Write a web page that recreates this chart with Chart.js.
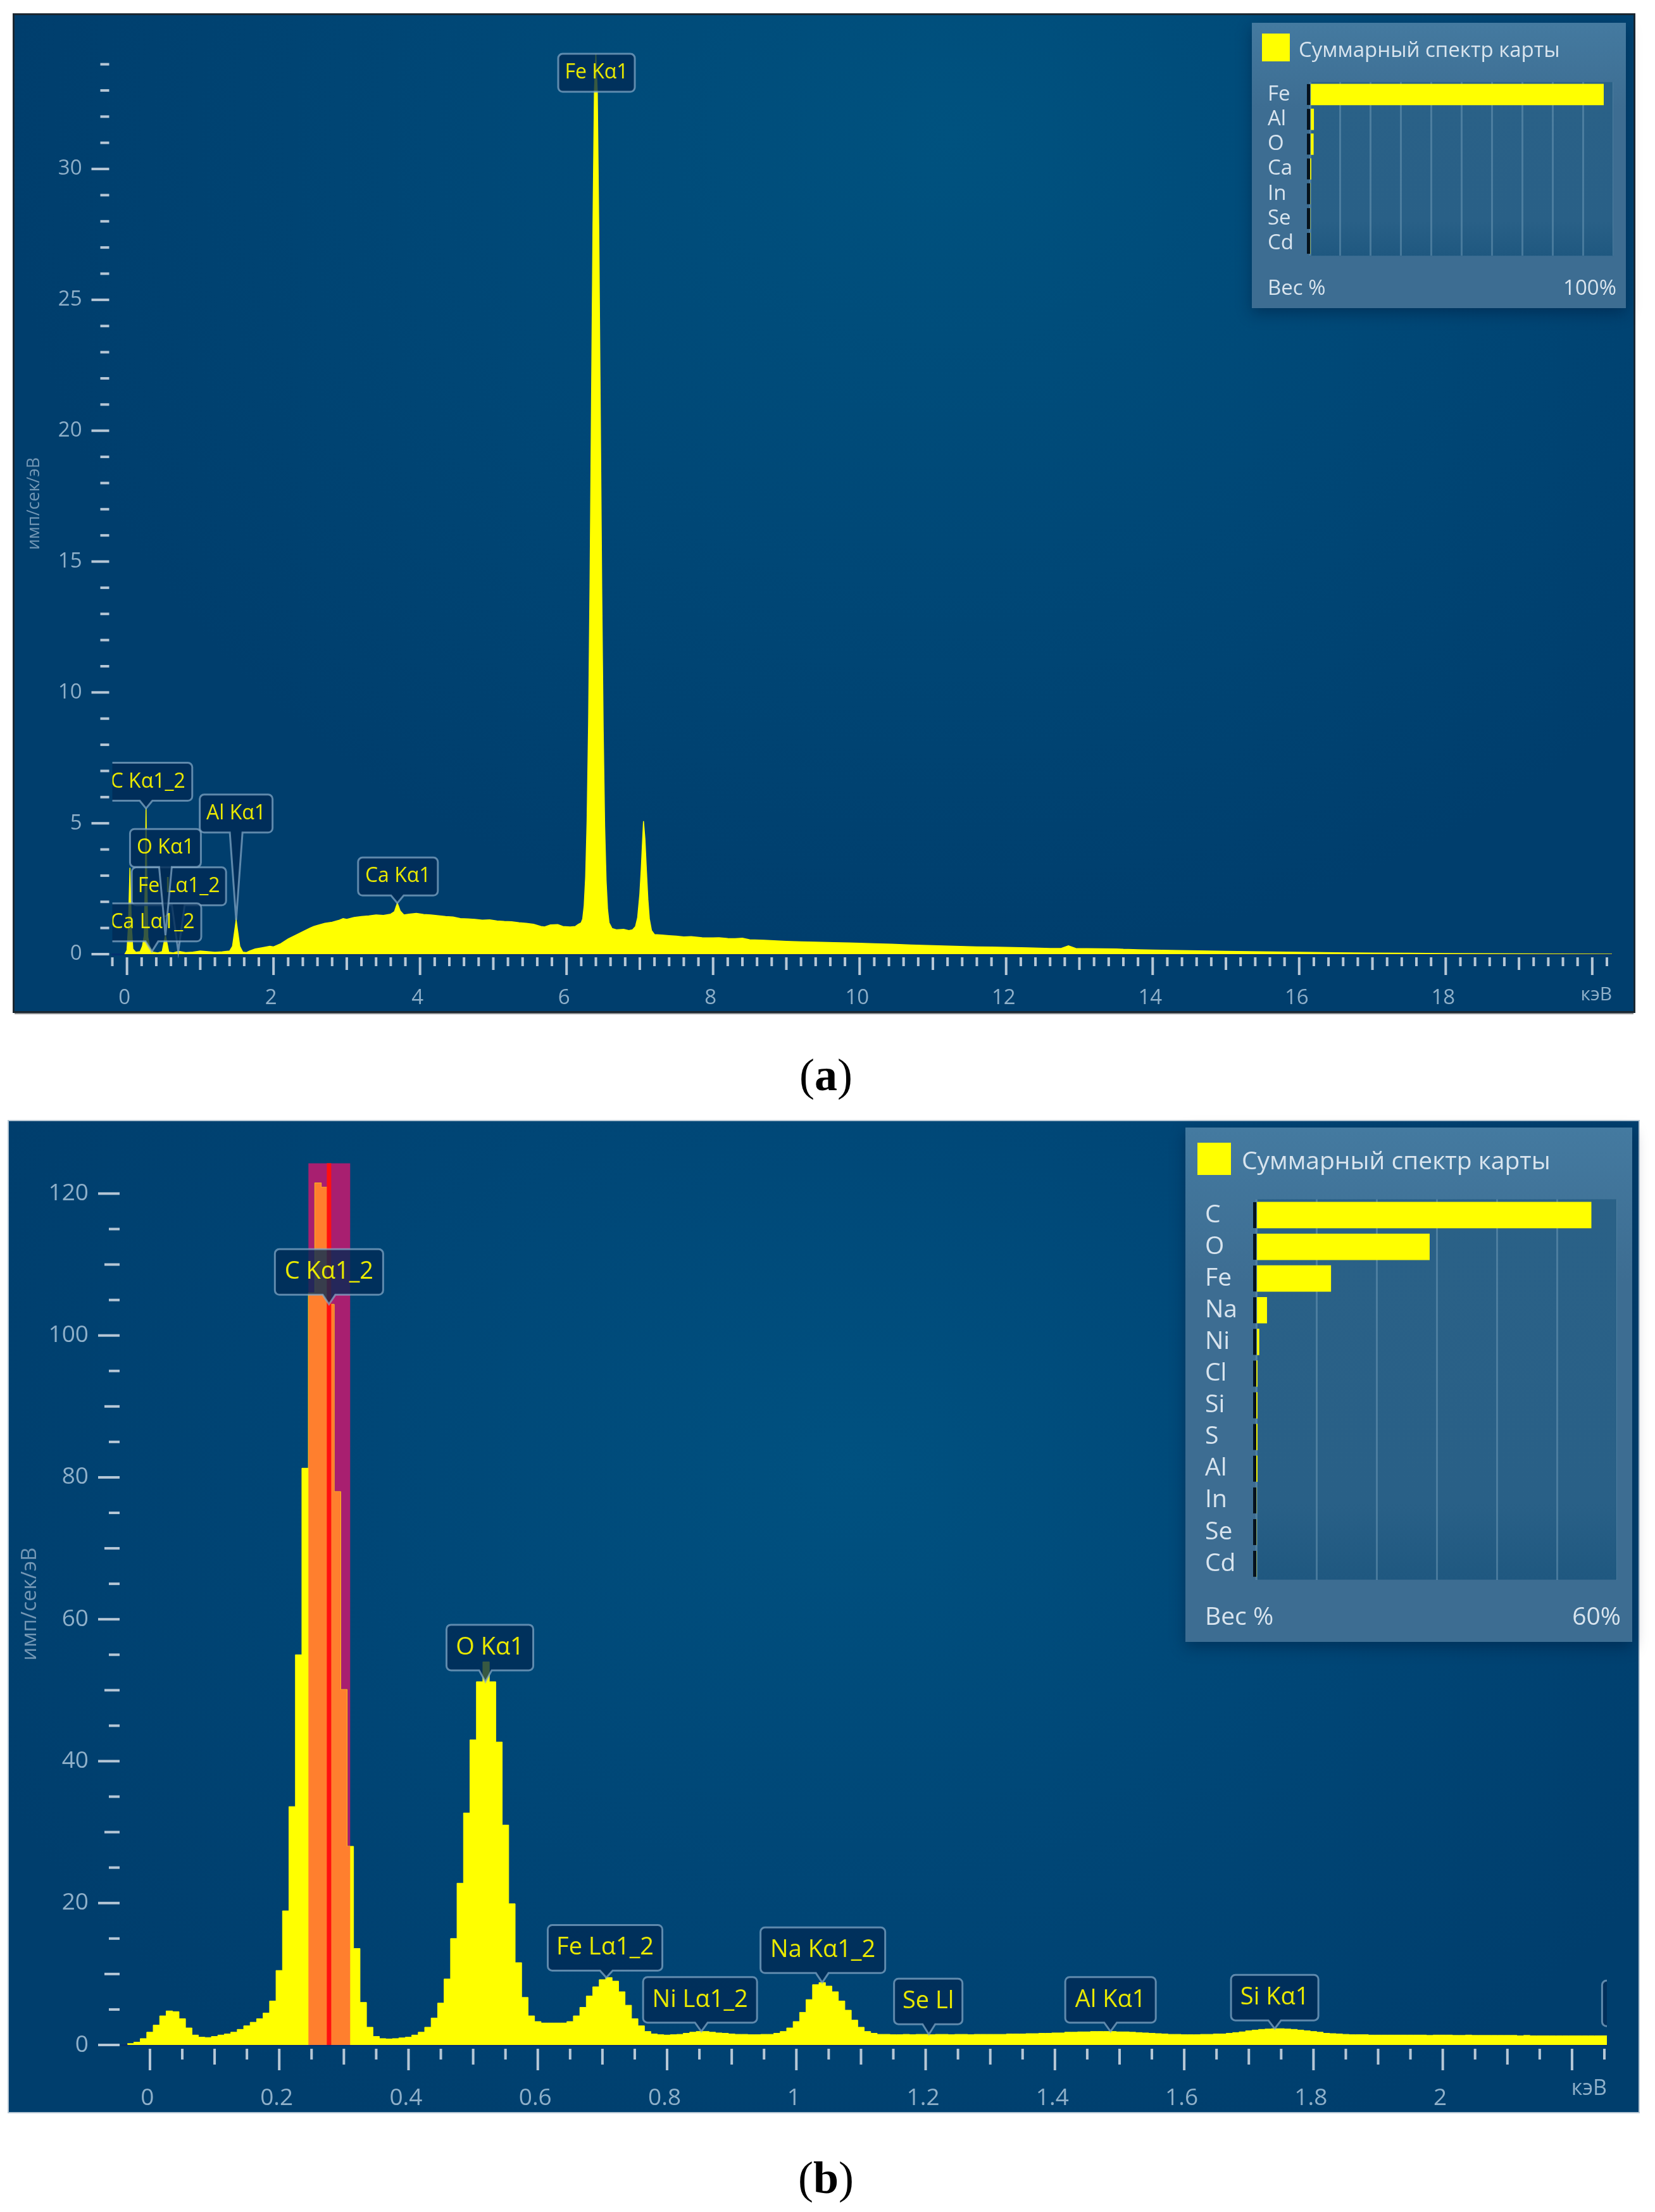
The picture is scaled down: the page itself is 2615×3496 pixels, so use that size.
<!DOCTYPE html>
<html>
<head>
<meta charset="utf-8">
<title>EDS spectra</title>
<script src="https://cdn.jsdelivr.net/npm/chart.js@4"></script>
<style>
html, body { margin: 0; padding: 0; background: #fff; }
body { position: relative; width: 2615px; height: 3496px; overflow: hidden; font-family: "Open Sans", sans-serif; }
.panel { position: absolute; }
.panel canvas { position: absolute; left: 0; top: 0; }
#panelA { left: 23px; top: 24px; width: 2558px; height: 1574px; outline: 3px solid #1b2731; box-shadow: 0 5px 0 #8f9294;
    background: radial-gradient(ellipse 1500px 1300px at 58% 12%, #00527f 0%, #004776 55%, #003e6d 100%); }
#panelB { left: 14px; top: 1772px; width: 2575px; height: 1566px; outline: 2px solid #b7c7d4;
    background: radial-gradient(ellipse 1500px 1200px at 52% 35%, #005180 0%, #004676 55%, #003e6d 100%); }
.inset { position: absolute; background: linear-gradient(#447aa0, #3d6d92 30%, #3d6d92); box-shadow: 0 8px 22px rgba(0,20,50,.4); color: #d8e4ee; }
.inset canvas { position: absolute; }
.swatch { position: absolute; background: #ffff00; }
.inset div { position: absolute; white-space: nowrap; line-height: 1; }
.cap { position: absolute; left: 1105px; width: 400px; text-align: center; font: 72px "Liberation Serif", serif; color: #000; line-height: 1; }
</style>
</head>
<body>
<div class="panel" id="panelA"><canvas id="spectrumA" width="2558" height="1574"></canvas></div>
<div class="inset" style="left:1978px;top:36px;width:591px;height:451px">
    <div class="swatch" style="left:16px;top:17px;width:44px;height:44px"></div>
    <div style="left:74px;top:25px;font-size:33px">Суммарный спектр карты</div>
    <canvas id="weightsA" width="546" height="320" style="left:25px;top:71px"></canvas>
    <div style="left:25px;top:401px;font-size:33px">Вес %</div>
    <div style="right:15px;top:401px;font-size:33px">100%</div>
</div>
<div class="cap" style="top:1663px">(<b>a</b>)</div>

<div class="panel" id="panelB"><canvas id="spectrumB" width="2575" height="1566"></canvas></div>
<div class="inset" style="left:1873px;top:1782px;width:706px;height:813px">
    <div class="swatch" style="left:19px;top:24px;width:53px;height:51px"></div>
    <div style="left:89px;top:31px;font-size:39px">Суммарный спектр карты</div>
    <canvas id="weightsB" width="651" height="654" style="left:31px;top:87px"></canvas>
    <div style="left:31px;top:751px;font-size:39px">Вес %</div>
    <div style="right:18px;top:751px;font-size:39px">60%</div>
</div>
<div class="cap" style="top:3406px">(<b>b</b>)</div>

<script>
// panel (a) spectrum
const energyA = [-0.03, 0, 0.02, 0.04, 0.06, 0.08, 0.12, 0.18, 0.21, 0.235, 0.25, 0.26, 0.27, 0.285, 0.31, 0.35, 0.42, 0.48, 0.505, 0.525,
    0.545, 0.57, 0.63, 0.68, 0.72, 0.8, 0.9, 1.0, 1.08, 1.2, 1.3, 1.4, 1.44, 1.47, 1.49, 1.51, 1.54, 1.58, 1.63, 1.68,
    1.75, 1.85, 1.95, 2.0, 2.1, 2.2, 2.3, 2.4, 2.5, 2.55, 2.6, 2.7, 2.8, 2.9, 2.95, 3.0, 3.1, 3.2, 3.3, 3.4,
    3.5, 3.6, 3.65, 3.69, 3.73, 3.78, 3.85, 3.95, 4.05, 4.15, 4.25, 4.35, 4.45, 4.55, 4.65, 4.75, 4.85, 4.95, 5.05, 5.15,
    5.25, 5.35, 5.45, 5.55, 5.65, 5.7, 5.78, 5.88, 5.95, 6.05, 6.12, 6.16, 6.2, 6.22, 6.24, 6.26, 6.28, 6.3, 6.32, 6.34,
    6.36, 6.38, 6.4, 6.42, 6.44, 6.46, 6.48, 6.5, 6.52, 6.54, 6.56, 6.58, 6.62, 6.68, 6.78, 6.85, 6.9, 6.94, 6.97, 7.0,
    7.02, 7.04, 7.05, 7.07, 7.09, 7.11, 7.13, 7.16, 7.2, 7.3, 7.4, 7.5, 7.6, 7.7, 7.85, 8, 8.08, 8.2, 8.3, 8.4,
    8.5, 8.7, 8.87, 9, 9.2, 9.4, 9.65, 9.85, 10, 10.2, 10.44, 10.7, 11, 11.3, 11.6, 11.8, 12, 12.3, 12.6, 12.75,
    12.85, 12.95, 13.1, 13.5, 13.6, 13.8, 14, 14.5, 15, 15.5, 16, 16.5, 17, 17.5, 18, 18.5, 19, 19.5, 20.27];
const countsA = [0, 0.15, 1.1, 3.3, 1.1, 0.2, 0.07, 0.1, 0.3, 0.7, 3.0, 5.57, 3.0, 0.65, 0.3, 0.08, 0.05, 0.1, 0.45, 0.72,
    0.45, 0.08, 0.05, 0.09, 0.1, 0.06, 0.08, 0.12, 0.1, 0.07, 0.09, 0.12, 0.3, 0.9, 1.31, 0.9, 0.3, 0.08, 0.06, 0.13,
    0.2, 0.25, 0.3, 0.28, 0.4, 0.58, 0.72, 0.86, 1.0, 1.06, 1.1, 1.18, 1.22, 1.3, 1.36, 1.33, 1.4, 1.44, 1.46, 1.5,
    1.48, 1.53, 1.62, 1.95, 1.65, 1.5, 1.53, 1.56, 1.52, 1.5, 1.47, 1.44, 1.42, 1.36, 1.35, 1.33, 1.3, 1.31, 1.27, 1.25,
    1.24, 1.2, 1.18, 1.14, 1.06, 1.04, 1.12, 1.13, 1.06, 1.04, 1.06, 1.14, 1.2, 1.35, 1.85, 2.95, 5.1, 8.8, 14.2, 21,
    27.8, 33, 34.4, 32.9, 27.7, 20.9, 14, 8.6, 4.9, 2.8, 1.7, 1.2, 0.98, 0.93, 0.95, 0.9, 0.93, 1.05, 1.4, 2.3,
    3.3, 4.5, 5.08, 4.4, 3.2, 2.1, 1.35, 0.9, 0.75, 0.73, 0.71, 0.69, 0.66, 0.67, 0.63, 0.62, 0.63, 0.6, 0.59, 0.61,
    0.55, 0.53, 0.51, 0.49, 0.47, 0.46, 0.44, 0.43, 0.42, 0.4, 0.38, 0.35, 0.325, 0.3, 0.28, 0.27, 0.26, 0.24, 0.22, 0.22,
    0.32, 0.22, 0.21, 0.2, 0.185, 0.17, 0.155, 0.13, 0.11, 0.09, 0.07, 0.055, 0.045, 0.035, 0.025, 0.017, 0.01, 0.004, 0];

// panel (b) spectrum, 10 eV channels, first channel starts at -0.035 keV
const firstChannelB = -0.035;
const channelWidthB = 0.01;
const countsB = [0.2, 0.4, 0.9,
    1.8, 2.8, 4.1, 4.8, 4.7, 3.7, 2.4, 1.4, 1.1, 1.05,
    1.2, 1.4, 1.55, 1.8, 2.2, 2.7, 3.2, 3.7, 4.5, 6.2,
    10.5, 18.9, 33.6, 55, 81.3, 106, 121.5, 120.9, 104.4, 78,
    50.1, 28, 13.6, 6, 2.5, 1.2, 0.9, 0.85, 0.9, 1,
    1.1, 1.4, 1.8, 2.5, 3.8, 5.9, 9.3, 15, 22.8, 32.7,
    43, 51.2, 54, 51.2, 42.7, 31, 19.9, 11.6, 6.7, 4.1,
    3.3, 3.1, 3.1, 3.1, 3.1, 3.3, 4.1, 5.3, 6.9, 8.2,
    9.2, 9.5, 9, 7.5, 5.6, 3.7, 2.7, 1.9, 1.55, 1.45,
    1.4, 1.45, 1.5, 1.65, 1.8, 1.9, 1.9, 1.8, 1.7, 1.65,
    1.55, 1.5, 1.5, 1.45, 1.45, 1.5, 1.5, 1.65, 1.9, 2.4,
    3.3, 4.6, 6.4, 8.5, 8.8, 8.3, 7.5, 6.2, 4.9, 3.5,
    2.5, 1.9, 1.65, 1.5, 1.5, 1.45, 1.45, 1.5, 1.45, 1.5,
    1.5, 1.45, 1.5, 1.5, 1.45, 1.5, 1.5, 1.45, 1.5, 1.5,
    1.5, 1.5, 1.5, 1.55, 1.55, 1.55, 1.6, 1.6, 1.65, 1.65,
    1.7, 1.7, 1.8, 1.8, 1.85, 1.85, 1.9, 1.9, 1.9, 1.9,
    1.85, 1.85, 1.8, 1.75, 1.7, 1.65, 1.6, 1.55, 1.5, 1.5,
    1.45, 1.45, 1.45, 1.5, 1.5, 1.55, 1.55, 1.65, 1.75, 1.85,
    2, 2.1, 2.2, 2.25, 2.3, 2.3, 2.25, 2.2, 2.1, 2,
    1.9, 1.8, 1.65, 1.6, 1.55, 1.5, 1.45, 1.45, 1.45, 1.4,
    1.4, 1.4, 1.4, 1.4, 1.4, 1.4, 1.4, 1.4, 1.35, 1.4,
    1.4, 1.4, 1.35, 1.35, 1.4, 1.35, 1.35, 1.35, 1.35, 1.35,
    1.35, 1.35, 1.3, 1.35, 1.3, 1.3, 1.3, 1.3, 1.3, 1.3,
    1.3, 1.3, 1.3, 1.3, 1.3, 1.3, 1.3];

// selected window on the C line
const bandStartB = 0.245;
const bandEndB = 0.31;
const markerB = 0.277;

const xTickLabelsA = ['0', '2', '4', '6', '8', '10', '12', '14', '16', '18'];
const yTickLabelsA = [0, 5, 10, 15, 20, 25, 30];
const xTickLabelsB = ['0', '0.2', '0.4', '0.6', '0.8', '1', '1.2', '1.4', '1.6', '1.8', '2'];
const yTickLabelsB = [0, 20, 40, 60, 80, 100, 120];

// peak names and where each one sits on the spectrum
const peakNamesA = ['Ca Kα1', 'Fe Lα1_2', 'Ca Lα1_2', 'O Kα1', 'Al Kα1', 'C Kα1_2', 'Fe Kα1'];
const peakEnergiesA = [3.69, 0.7, 0.34, 0.525, 1.49, 0.26, 6.4];
const peakHeightsA = [1.95, 0.1, 0.1, 0.72, 1.31, 5.57, 34.4];
const peakNamesB = ['C Kα1_2', 'O Kα1', 'Fe Lα1_2', 'Ni Lα1_2', 'Na Kα1_2', 'Se Ll', 'Al Kα1', 'Si Kα1', ''];
const peakEnergiesB = [0.277, 0.519, 0.706, 0.853, 1.04, 1.205, 1.486, 1.74, 2.315];
const peakHeightsB = [104.4, 51.2, 9.5, 1.9, 8.8, 1.5, 1.9, 2.3, 1.4];

// weight percent tables
const elementsA = ['Fe', 'Al', 'O', 'Ca', 'In', 'Se', 'Cd'];
const weightsA = [96.8, 1.2, 1.1, 0.1, 0, 0, 0];
const elementsB = ['C', 'O', 'Fe', 'Na', 'Ni', 'Cl', 'Si', 'S', 'Al', 'In', 'Se', 'Cd'];
const weightsB = [55.7, 28.8, 12.4, 1.75, 0.46, 0.05, 0.03, 0.03, 0.02, 0, 0, 0];

// box layout of the callouts, same order as the names: width, shift, lift above the peak
const boxesA = [[126, 1, 12], [149, 1, 73], [154, 1, 16], [112, 0, 108], [115, 0, 138], [140, 3, 12], [121, 1, -60]];
const boxesB = [[171, 0, 15], [137, 7, 18], [181, -2, 11], [180, -2, 14], [197, 1, 15], [108, -1, 16], [143, 0, 14], [138, 0, 13], [140, 0, 14]];

const TICK_COLOR = '#b6c7d6';
const LABEL_COLOR = '#8fb0c9';
const TITLE_COLOR = '#7397b5';
const YELLOW = '#ffff00';

Chart.defaults.font.family = '"Open Sans", sans-serif';
Chart.defaults.animation = false;

function multipleOf(v, step) {
    return Math.abs(v / step - Math.round(v / step)) < 1e-6;
}

// chart.js has one tick length per axis, here there are three
function tickMarksPlugin(cfg) {
    return {
        id: 'tickMarks',
        afterDraw(chart) {
            const ctx = chart.ctx;
            const area = chart.chartArea;
            ctx.save();
            ctx.fillStyle = TICK_COLOR;
            chart.scales.x.ticks.forEach(t => {
                const px = chart.scales.x.getPixelForValue(t.value);
                let len = cfg.xLens[2];
                if (multipleOf(t.value, cfg.xMajor)) len = cfg.xLens[0];
                else if (multipleOf(t.value, cfg.xMid)) len = cfg.xLens[1];
                ctx.fillRect(px - 2, area.bottom + cfg.xGap, 4, len);
            });
            chart.scales.y.ticks.forEach(t => {
                const py = chart.scales.y.getPixelForValue(t.value);
                let len = cfg.yLens[2];
                if (multipleOf(t.value, cfg.yMajor)) len = cfg.yLens[0];
                else if (multipleOf(t.value, cfg.yMid)) len = cfg.yLens[1];
                ctx.fillRect(area.left - cfg.yGap - len, py - 2, len, 4);
            });
            ctx.restore();
        }
    };
}

function calloutPlugin(names, energies, heights, boxes, boxHeight, fontSize) {
    return {
        id: 'callouts',
        afterDatasetsDraw(chart) {
            const ctx = chart.ctx;
            const area = chart.chartArea;
            ctx.save();
            ctx.beginPath();
            ctx.rect(area.left, 0, area.right - area.left, chart.height);
            ctx.clip();
            names.forEach((name, i) => {
                const x = chart.scales.x.getPixelForValue(energies[i]);
                const y = chart.scales.y.getPixelForValue(heights[i]);
                const [w, dx, lift] = boxes[i];
                const l = x + dx - w / 2, r = l + w, b = y - lift, t = b - boxHeight;
                ctx.beginPath();
                ctx.moveTo(l + 7, t);
                ctx.arcTo(r, t, r, b, 7);
                ctx.arcTo(r, b, l, b, 7);
                if (lift > 0) {
                    ctx.lineTo(x + 10, b);
                    ctx.lineTo(x, y);
                    ctx.lineTo(x - 10, b);
                }
                ctx.arcTo(l, b, l, t, 7);
                ctx.arcTo(l, t, r, t, 7);
                ctx.closePath();
                ctx.fillStyle = 'rgba(0, 42, 84, 0.78)';
                ctx.fill();
                ctx.strokeStyle = 'rgba(135, 172, 202, 0.7)';
                ctx.lineWidth = 3;
                ctx.stroke();
                if (name) {
                    ctx.fillStyle = '#e9e900';
                    ctx.font = fontSize + 'px "Open Sans", sans-serif';
                    ctx.textAlign = 'center';
                    ctx.textBaseline = 'middle';
                    ctx.fillText(name, l + w / 2, t + boxHeight / 2);
                }
            });
            ctx.restore();
        }
    };
}

function spectrumAxes(o) {
    return {
        x: {
            type: 'linear', min: o.xMin, max: o.xMax,
            afterFit: s => { s.height = o.bottom; },
            grid: { display: false },
            border: { display: true, color: '#04306f', width: 3 },
            title: { display: true, text: 'кэВ', align: 'end', color: LABEL_COLOR, font: { size: o.fontSize - 3 }, padding: { top: 0, bottom: o.unitPad } },
            ticks: {
                stepSize: o.xStep, includeBounds: false, autoSkip: false, maxRotation: 0,
                padding: o.xPad, labelOffset: -4, color: LABEL_COLOR, font: { size: o.fontSize },
                callback: v => {
                    const s = String(+v.toFixed(2));
                    return o.xLabels.includes(s) ? s : '';
                }
            }
        },
        y: {
            type: 'linear', min: 0, max: o.yMax,
            afterFit: s => { s.width = o.left; },
            grid: { display: false },
            border: { display: false },
            title: { display: true, text: 'имп/сек/эВ', color: TITLE_COLOR, font: { size: o.titleSize }, padding: { top: o.titlePad, bottom: 0 } },
            ticks: {
                stepSize: o.yStep, includeBounds: false, autoSkip: false,
                padding: o.yPad, color: LABEL_COLOR, font: { size: o.fontSize },
                callback: v => o.yLabels.includes(Math.round(v)) ? String(Math.round(v)) : ''
            }
        }
    };
}

const baseOptions = {
    responsive: false,
    devicePixelRatio: 1,
    layout: { padding: 0 },
    plugins: { legend: { display: false }, tooltip: { enabled: false } }
};

// spectrum (a)
new Chart(document.getElementById('spectrumA'), {
    type: 'line',
    data: {
        datasets: [{
            data: energyA.map((e, i) => ({ x: e, y: countsA[i] })),
            borderColor: YELLOW, backgroundColor: YELLOW, borderWidth: 1.5,
            pointRadius: 0, fill: 'origin', tension: 0
        }]
    },
    options: {
        ...baseOptions,
        scales: spectrumAxes({
            xMin: -0.2, xMax: 20.27, yMax: 34.43, xStep: 0.2, yStep: 1,
            left: 154.5, bottom: 90, xPad: 42, yPad: 40, unitPad: 8, fontSize: 33,
            titleSize: 27, titlePad: 15, xLabels: xTickLabelsA, yLabels: yTickLabelsA
        })
    },
    plugins: [
        tickMarksPlugin({ xMajor: 2, xMid: 1, xLens: [28, 20, 14], xGap: 5, yMajor: 5, yMid: 5, yLens: [28, 28, 14], yGap: 5 }),
        calloutPlugin(peakNamesA, peakEnergiesA, peakHeightsA, boxesA, 60, 32)
    ]
});

// spectrum (b)
const yMaxB = 124.3;
const pointsB = countsB.map((c, i) => ({ x: firstChannelB + i * channelWidthB, y: c }));
// channels inside the window turn orange, the last one is cut by the window edge
const orangeB = pointsB.filter(p => p.x >= bandStartB - 1e-6 && p.x < bandEndB);
orangeB.push({ x: bandEndB, y: orangeB[orangeB.length - 1].y });

new Chart(document.getElementById('spectrumB'), {
    type: 'line',
    data: {
        datasets: [
            {
                data: [{ x: bandStartB, y: yMaxB }, { x: bandEndB, y: yMaxB }],
                borderWidth: 0, backgroundColor: '#a81f70', pointRadius: 0, fill: 'origin', order: 4
            },
            {
                data: pointsB, stepped: 'before',
                borderColor: YELLOW, backgroundColor: YELLOW, borderWidth: 1, pointRadius: 0, fill: 'origin', order: 3
            },
            {
                data: orangeB, stepped: 'before',
                borderColor: '#ff7f2e', backgroundColor: '#ff7f2e', borderWidth: 0, pointRadius: 0, fill: 'origin', order: 2
            },
            {
                data: [{ x: markerB, y: 0 }, { x: markerB, y: yMaxB }],
                borderColor: '#ff1010', borderWidth: 7, pointRadius: 0, order: 1
            }
        ]
    },
    options: {
        ...baseOptions,
        scales: spectrumAxes({
            xMin: -0.044, xMax: 2.254, yMax: yMaxB, xStep: 0.05, yStep: 5,
            left: 178, bottom: 106, xPad: 54, yPad: 44, unitPad: 16, fontSize: 37,
            titleSize: 33, titlePad: 14, xLabels: xTickLabelsB, yLabels: yTickLabelsB
        })
    },
    plugins: [
        tickMarksPlugin({ xMajor: 0.2, xMid: 0.1, xLens: [34, 25, 17], xGap: 6, yMajor: 20, yMid: 10, yLens: [34, 24, 17], yGap: 3 }),
        calloutPlugin(peakNamesB, peakEnergiesB, peakHeightsB, boxesB, 72, 38)
    ]
});

// weight percent insets
function weightChart(id, elements, weights, xMax, labelWidth, barSize, fontSize) {
    const plotBack = {
        id: 'plotBack',
        beforeDraw(chart) {
            const a = chart.chartArea;
            const g = chart.ctx.createLinearGradient(0, a.top, 0, a.bottom);
            g.addColorStop(0, '#2a6187');
            g.addColorStop(0.8, '#296087');
            g.addColorStop(1, '#1f5880');
            chart.ctx.fillStyle = g;
            chart.ctx.fillRect(a.left, a.top, a.right - a.left, a.bottom - a.top);
        },
        afterDraw(chart) {
            // black stub at the root of every row
            const ctx = chart.ctx;
            ctx.fillStyle = '#06121c';
            chart.getDatasetMeta(0).data.forEach(bar => {
                ctx.fillRect(chart.chartArea.left - 5, bar.y - barSize / 2, 5, barSize);
            });
        }
    };
    return new Chart(document.getElementById(id), {
        type: 'bar',
        data: {
            labels: elements,
            datasets: [{ data: weights, backgroundColor: YELLOW, barThickness: barSize }]
        },
        options: {
            ...baseOptions,
            indexAxis: 'y',
            scales: {
                x: {
                    min: 0, max: xMax,
                    afterFit: s => { s.height = 0; },
                    ticks: { display: false, stepSize: 10 },
                    border: { display: false },
                    grid: { color: 'rgba(130, 170, 196, 0.4)', lineWidth: 3, drawTicks: false }
                },
                y: {
                    afterFit: s => { s.width = labelWidth; },
                    grid: { display: false },
                    border: { display: false },
                    ticks: { crossAlign: 'far', color: '#d8e4ee', font: { size: fontSize }, autoSkip: false }
                }
            }
        },
        plugins: [plotBack]
    });
}

weightChart('weightsA', elementsA, weightsA, 100, 67, 33, 33);
weightChart('weightsB', elementsB, weightsB, 60, 81, 41, 39);
</script>
</body>
</html>
